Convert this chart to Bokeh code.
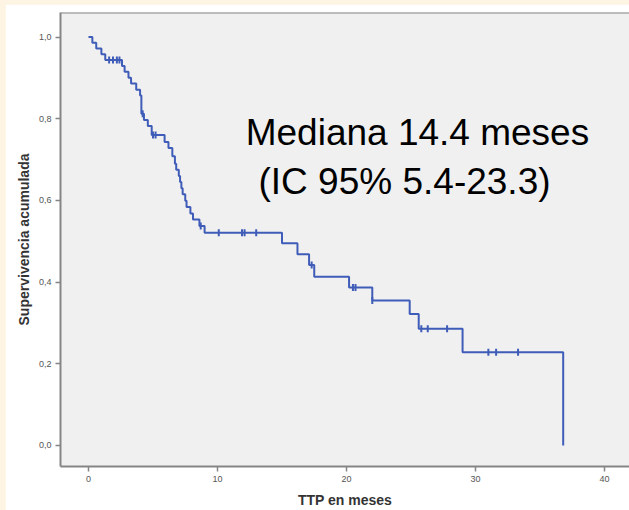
import numpy as np
from bokeh.plotting import figure
from bokeh.layouts import column
from bokeh.models import Range1d, FixedTicker, CustomJSTickFormatter, Label, Span
from bokeh.embed import file_html
from bokeh.resources import INLINE

# Kaplan-Meier step data (months, cumulative survival after the step)
event_months = [0.0, 0.3, 0.6, 1.0, 1.3, 2.6, 2.8, 3.1, 3.3, 3.7, 4.0, 4.1, 4.3, 4.6, 4.9,
                5.9, 6.2, 6.5, 6.7, 6.8, 7.0, 7.1, 7.2, 7.3, 7.5, 7.6, 7.9, 8.1, 8.6, 9.0,
                15.0, 16.2, 17.1, 17.5, 20.2, 22.0, 24.9, 25.6, 29.0, 36.8]
survival = [1.0, 0.986, 0.972, 0.958, 0.944, 0.929, 0.915, 0.900, 0.886, 0.871, 0.857, 0.812,
            0.797, 0.782, 0.760, 0.743, 0.728, 0.708, 0.690, 0.675, 0.660, 0.645, 0.630, 0.615,
            0.599, 0.584, 0.568, 0.553, 0.537, 0.521, 0.495, 0.468, 0.442, 0.413, 0.387, 0.355,
            0.322, 0.286, 0.228, 0.0]
censored_months = [1.6, 1.9, 2.2, 2.4, 4.2, 5.0, 5.2, 8.7, 10.1, 11.9, 12.1, 13.0, 17.3,
                   20.5, 20.7, 22.0, 25.8, 26.3, 27.8, 31.0, 31.6, 33.3]

x_ticks = [0, 10, 20, 30, 40]
y_ticks = [0.0, 0.2, 0.4, 0.6, 0.8, 1.0]
x_title = "TTP en meses"
y_title = "Supervivencia acumulada"
note_line1 = "Mediana 14.4 meses"
note_line2 = "(IC 95% 5.4-23.3)"

BLUE = "#3F5CB8"
GRAY = "#858585"

em = np.array(event_months)
sv = np.array(survival)
cens_y = [sv[np.searchsorted(em, c, side="right") - 1] for c in censored_months]

p = figure(width=624, height=506, output_backend="svg", toolbar_location=None,
           x_range=Range1d(-2.17, 41.94), y_range=Range1d(-0.0515, 1.06),
           min_border_left=55, min_border_top=8, min_border_bottom=44, min_border_right=0)
p.margin = (4, 0, 0, 5)
p.background_fill_color = "#F0F0F0"
p.border_fill_color = "white"
p.outline_line_color = None
p.grid.visible = False

p.step(x=event_months, y=survival, mode="after", line_color=BLUE, line_width=2)
p.scatter(x=censored_months, y=cens_y, marker="dash", angle=np.pi / 2, size=7,
          line_color=BLUE, line_width=2)

top = Span(location=1.06, dimension="width", line_color=GRAY, line_width=2)
p.add_layout(top)

for ax in (p.xaxis[0], p.yaxis[0]):
    ax.axis_line_color = GRAY
    ax.axis_line_width = 2
    ax.major_tick_line_color = GRAY
    ax.major_tick_line_width = 1.5
    ax.major_tick_in = 0
    ax.major_tick_out = 5
    ax.minor_tick_line_color = None
    ax.major_label_text_font = "Liberation Sans"
    ax.major_label_text_font_size = "9px"
    ax.major_label_text_color = "#555555"
    ax.axis_label_text_font = "Liberation Sans"
    ax.axis_label_text_font_style = "bold"
    ax.axis_label_text_color = "#333333"
    ax.axis_label_text_font_size = "14px"

p.xaxis.ticker = FixedTicker(ticks=x_ticks)
p.yaxis.ticker = FixedTicker(ticks=y_ticks)
p.yaxis.formatter = CustomJSTickFormatter(code="return tick.toFixed(1).replace('.', ',');")
p.xaxis.axis_label = x_title
p.yaxis.axis_label = y_title
p.xaxis.axis_label_standoff = 7
p.yaxis.axis_label_standoff = 4
p.xaxis.major_label_standoff = 4
p.yaxis.major_label_standoff = 4

p.add_layout(Label(x=25.5, y=0.767, text=note_line1, text_align="center",
                   text_baseline="alphabetic", text_font="Liberation Sans",
                   text_font_size="37px", text_color="black"))
p.add_layout(Label(x=24.5, y=0.647, text=note_line2, text_align="center",
                   text_baseline="alphabetic", text_font="Liberation Sans",
                   text_font_size="37px", text_color="black"))

layout = column(p, width=629, height=510, styles={"background-color": "#FDF4E3"})
open("out.html", "w").write(file_html(layout, INLINE))
